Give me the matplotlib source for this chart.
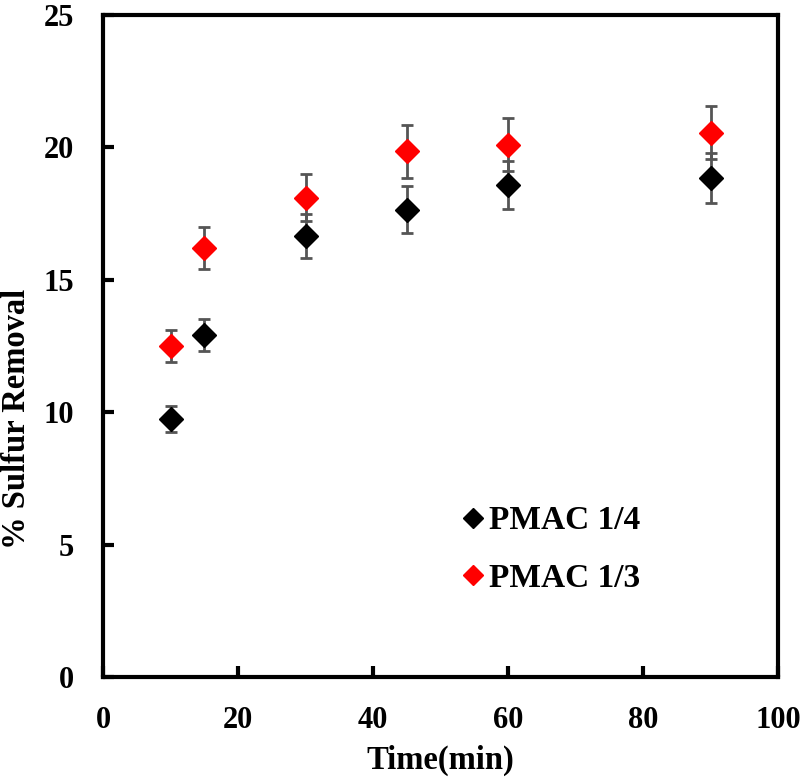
import numpy as np
import matplotlib.pyplot as plt

time = [10, 15, 30, 45, 60, 90]
pmac_14 = [9.75, 12.9, 16.65, 17.65, 18.57, 18.85]
err_14 = [0.5, 0.6, 0.83, 0.88, 0.9, 0.95]
pmac_13 = [12.5, 16.2, 18.1, 19.85, 20.1, 20.55]
err_13 = [0.62, 0.78, 0.9, 1.0, 1.0, 1.0]

plt.rcParams['font.family'] = 'Liberation Serif'
plt.rcParams['font.weight'] = 'bold'

fig = plt.figure(figsize=(8, 7.8), dpi=100)
ax = fig.add_axes([0.129, 0.132, 0.844, 0.849])

ax.errorbar(time, pmac_14, yerr=err_14, fmt='D', color='black', ms=12,
            ecolor='#555555', elinewidth=2, capsize=4.5, capthick=2, label='PMAC 1/4', zorder=3)
ax.errorbar(time, pmac_13, yerr=err_13, fmt='D', color='#ff0000', ms=12,
            ecolor='#555555', elinewidth=2, capsize=4.5, capthick=2, label='PMAC 1/3', zorder=3)

ax.set_xlim(0, 100)
ax.set_ylim(0, 25)
ax.set_xticks(np.arange(0, 101, 20))
ax.set_yticks(np.arange(0, 26, 5))
ax.tick_params(direction='in', length=8, width=3, labelsize=22, pad=21)
for s in ax.spines.values():
    s.set_linewidth(3)

ax.set_xlabel('Time(min)', fontsize=23.5, fontweight='bold', labelpad=7)
ax.set_ylabel('% Sulfur Removal', fontsize=23.5, fontweight='bold')
ax.yaxis.set_label_coords(-0.106, 0.39)

handles, labels = ax.get_legend_handles_labels()
handles = [h[0] for h in handles]
ax.legend(handles, labels, loc='lower left', bbox_to_anchor=(0.483, 0.08), frameon=False,
          fontsize=24, handletextpad=0.1, markerscale=0.85, labelspacing=0.8, handlelength=0.8)

fig.savefig('out.png')
